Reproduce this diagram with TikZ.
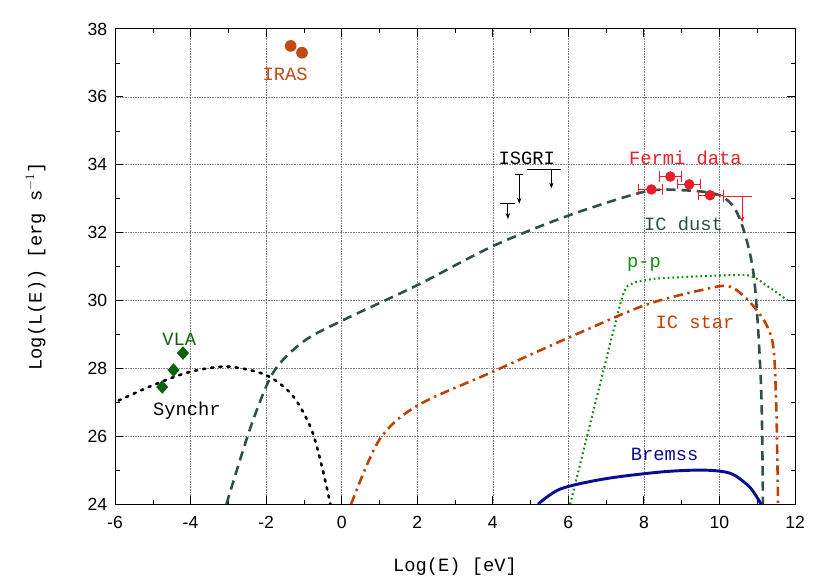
\documentclass[tikz,border=0pt]{standalone}
\usepackage{fontspec}
\setmainfont{Liberation Mono}
\setmonofont{Liberation Mono}
\newfontfamily\ticksf{Liberation Sans}
\usetikzlibrary{arrows.meta}
\begin{document}
\begin{tikzpicture}[x=1.1333cm,y=1.018cm,
 lbl/.style={font=\fontsize{16}{18}\selectfont},
 tck/.style={font=\ticksf\fontsize{15}{17}\selectfont},
 grd/.style={gray,densely dotted,thin},
 dust/.style={color=dustc,line width=2.2pt,dash pattern=on 8pt off 5pt},
 syn/.style={black,line width=2.2pt,dash pattern=on 2pt off 5pt,line cap=round},
 pp/.style={color=ppc,line width=1.8pt,dash pattern=on 1.5pt off 2.5pt},
 star/.style={color=starc,line width=2.2pt,dash pattern=on 8pt off 4pt on 2pt off 4pt},
 brem/.style={color=bremc,line width=2.5pt},
 ul/.style={-{Stealth[length=5pt]},thick}]
\definecolor{dustc}{HTML}{2F4F4F}
\definecolor{ppc}{HTML}{138A13}
\definecolor{starc}{HTML}{C04000}
\definecolor{bremc}{HTML}{0A0A96}
\definecolor{fermic}{HTML}{E81E2A}
\definecolor{irasc}{HTML}{C04A10}
\definecolor{vlac}{HTML}{0B640B}
\useasboundingbox (-9.044,21.73) rectangle (12.899,38.854);
% grid
\foreach \x in {-4,-2,...,10} \draw[grd] (\x,24) -- (\x,38);
\foreach \y in {26,28,...,36} \draw[grd] (-6,\y) -- (12,\y);
% frame and ticks
\draw[thick] (-6,24) rectangle (12,38);
\foreach \x in {-6,-4,...,12} {
 \draw[thick] (\x,24) -- ++(0,0.25) (\x,38) -- ++(0,-0.25);
 \node[tck,below] (tx\x) at (\x,23.75) {\x};}
\foreach \x in {-5,-3,...,11}
 \draw (\x,24) -- ++(0,0.13) (\x,38) -- ++(0,-0.13);
\foreach \y in {24,26,...,38} {
 \draw[thick] (-6,\y) -- ++(0.22,0) (12,\y) -- ++(-0.22,0);
 \node[tck,left] (ty\y) at (-6.1,\y) {\y};}
\foreach \y in {25,27,...,37}
 \draw (-6,\y) -- ++(0.12,0) (12,\y) -- ++(-0.12,0);
\node[lbl] (xlab) at (3,22.15) {Log(E)  [eV]};
\node[lbl,rotate=90] (ylab) at (-8.1,31) {Log(L(E))  [erg s$^{-1}$]};
% model curves
\begin{scope}
\clip (-6,24) rectangle (12,38);
\draw[syn] plot[smooth] coordinates {(-6.1,26.95) (-5,27.5) (-4,27.9) (-3,28.05) (-2,27.8) (-1.3,27.2) (-0.8,26.2) (-0.5,25) (-0.3,24)};
\draw[dust] plot[smooth] coordinates {(-3.05,24) (-2.4,26.3) (-1.8,27.9) (-1,28.8) (0,29.4) (2,30.45) (4,31.6) (6,32.5) (8,33.2) (9,33.25) (10,33.1) (10.5,32.5) (10.9,30.8) (11.1,27.5) (11.15,24)};
\draw[pp] plot[smooth,tension=0.3] coordinates {(6.05,24) (7.4,30.0) (7.7,30.5) (8.4,30.65) (10.7,30.75) (11.3,30.4) (11.8,30.0)};
\draw[star] plot[smooth] coordinates {(0.25,24) (1,25.9) (2,26.9) (4,27.9) (6,28.9) (8,29.85) (9.5,30.3) (10.3,30.4) (11,29.7) (11.4,28.8) (11.5,27) (11.55,24)};
\draw[brem] plot[smooth] coordinates {(5.2,24) (5.8,24.45) (7,24.75) (8.5,24.95) (9.6,25.0) (10.3,24.9) (10.8,24.5) (11.1,24)};
\end{scope}
% labels
\node[lbl,irasc] (iras) at (-1.5,36.65) {IRAS};
\node[lbl,vlac] (vla) at (-4.3,28.85) {VLA};
\node[lbl] (synchr) at (-4.1,26.75) {Synchr};
\node[lbl] (isgri) at (4.9,34.2) {ISGRI};
\node[lbl,fermic] (fermi) at (9.1,34.2) {Fermi data};
\node[lbl,dustc] (icdust) at (9.05,32.25) {IC dust};
\node[lbl,ppc] (pplab) at (8.0,31.05) {p-p};
\node[lbl,starc] (icstar) at (9.35,29.35) {IC star};
\node[lbl,bremc] (bremss) at (8.55,25.45) {Bremss};
% IRAS and VLA points
\foreach \x/\y in {-1.35/37.5,-1.05/37.3}
 \fill[irasc] (\x,\y) circle (5pt);
\foreach \x/\y in {-4.75/27.45,-4.45/27.95,-4.2/28.45}
 \fill[vlac] (\x,\y) ++(0,0.2) -- ++(0.16,-0.2) -- ++(-0.16,-0.2) -- ++(-0.16,0.2) -- cycle;
% ISGRI upper limits
\foreach \a/\b/\c/\y/\d in {4.2/4.6/4.4/32.85/0.45,4.6/4.8/4.7/33.7/0.85,4.9/5.8/5.55/33.85/0.55} {
 \draw[thick] (\a,\y) -- (\b,\y);
 \draw[ul] (\c,\y) -- ++(0,-\d);}
% Fermi points
\foreach \x/\a/\b/\y in {8.2/7.85/8.5/33.27,8.7/8.4/9.0/33.65,9.2/8.9/9.5/33.42,9.75/9.45/10.1/33.1} {
 \draw[fermic,thick] (\a,\y-0.15) -- (\a,\y+0.15) (\a,\y) -- (\b,\y) (\b,\y-0.15) -- (\b,\y+0.15);
 \fill[fermic] (\x,\y) circle (4.5pt);}
\draw[fermic,thick] (10.1,33.05) -- (10.85,33.05) (10.1,32.9) -- (10.1,33.2);
\draw[fermic,ul] (10.6,33.05) -- (10.6,32.3);
\end{tikzpicture}
\end{document}
